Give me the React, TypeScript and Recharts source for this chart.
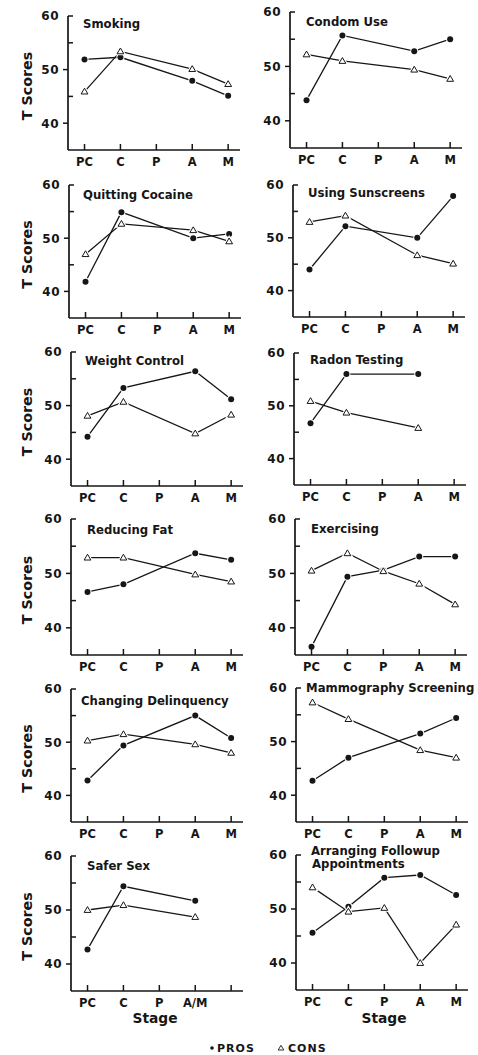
import { LineChart, Line, XAxis, YAxis } from "recharts";

// stage labels
const stages = ["PC", "C", "P", "A", "M"];
const saferSexStages = ["PC", "C", "P", "A/M", ""];
const yTicks = [40, 45, 50, 55, 60];

// T scores (null = no point at that stage)
const smokingPros = [51.9, 52.3, null, 47.9, 45.1];
const smokingCons = [45.9, 53.4, null, 50.1, 47.3];
const condomPros = [43.8, 55.7, null, 52.8, 55.0];
const condomCons = [52.2, 51.0, null, 49.4, 47.7];
const cocainePros = [41.8, 54.9, null, 50.0, 50.8];
const cocaineCons = [47.0, 52.7, null, 51.5, 49.4];
const sunscreenPros = [44.0, 52.2, null, 50.0, 57.9];
const sunscreenCons = [53.0, 54.2, null, 46.7, 45.1];
const weightPros = [44.2, 53.3, null, 56.4, 51.2];
const weightCons = [48.1, 50.7, null, 44.8, 48.3];
const radonPros = [46.7, 56.0, null, 56.0, null];
const radonCons = [50.9, 48.7, null, 45.8, null];
const fatPros = [46.6, 48.0, null, 53.7, 52.5];
const fatCons = [52.9, 52.9, null, 49.8, 48.5];
const exercisePros = [36.5, 49.4, 50.6, 53.1, 53.1];
const exerciseCons = [50.5, 53.7, 50.4, 48.1, 44.3];
const delinquencyPros = [42.8, 49.4, null, 55.0, 50.8];
const delinquencyCons = [50.3, 51.5, null, 49.6, 48.0];
const mammographyPros = [42.7, 47.0, null, 51.5, 54.4];
const mammographyCons = [57.3, 54.2, null, 48.4, 47.0];
const saferSexPros = [42.7, 54.4, null, 51.7, null];
const saferSexCons = [50.0, 50.9, null, 48.7, null];
const followupPros = [45.6, 50.4, 55.8, 56.3, 52.6];
const followupCons = [54.0, 49.5, 50.2, 40.0, 47.1];

const panels = [
  { title: ["Smoking"], labels: stages, pros: smokingPros, cons: smokingCons },
  { title: ["Condom Use"], labels: stages, pros: condomPros, cons: condomCons },
  { title: ["Quitting Cocaine"], labels: stages, pros: cocainePros, cons: cocaineCons },
  { title: ["Using Sunscreens"], labels: stages, pros: sunscreenPros, cons: sunscreenCons },
  { title: ["Weight Control"], labels: stages, pros: weightPros, cons: weightCons },
  { title: ["Radon Testing"], labels: stages, pros: radonPros, cons: radonCons },
  { title: ["Reducing Fat"], labels: stages, pros: fatPros, cons: fatCons },
  { title: ["Exercising"], labels: stages, pros: exercisePros, cons: exerciseCons },
  { title: ["Changing Delinquency"], labels: stages, pros: delinquencyPros, cons: delinquencyCons },
  { title: ["Mammography Screening"], labels: stages, pros: mammographyPros, cons: mammographyCons },
  { title: ["Safer Sex"], labels: saferSexStages, pros: saferSexPros, cons: saferSexCons },
  { title: ["Arranging Followup", "Appointments"], labels: stages, pros: followupPros, cons: followupCons },
];

// pixel placement of each panel (axis x, y of 60, baseline, title anchor)
const layout = [
  { axisX: 68, top: 16, base: 150, titleX: 83, titleY: 28 },
  { axisX: 290, top: 12, base: 148, titleX: 306, titleY: 26 },
  { axisX: 69, top: 185, base: 318, titleX: 83, titleY: 199 },
  { axisX: 293, top: 185, base: 317, titleX: 308, titleY: 197 },
  { axisX: 71, top: 352, base: 486, titleX: 85, titleY: 365 },
  { axisX: 294, top: 353, base: 485, titleX: 310, titleY: 364 },
  { axisX: 71, top: 519, base: 655, titleX: 87, titleY: 534 },
  { axisX: 295, top: 519, base: 655, titleX: 311, titleY: 533 },
  { axisX: 71, top: 689, base: 822, titleX: 81, titleY: 705 },
  { axisX: 296, top: 688, base: 822, titleX: 306, titleY: 692 },
  { axisX: 71, top: 856, base: 991, titleX: 87, titleY: 870 },
  { axisX: 296, top: 855, base: 990, titleX: 311, titleY: 855 },
];

const INK = "#161616";
const FONT = "'DejaVu Sans', sans-serif";
const PLOT_W = 172;

const YTick = (props: any) => {
  const { x, y, payload } = props;
  const v = payload.value;
  const labelled = v === 40 || v === 50 || v === 60;
  const outward = v === 40 || v === 50;
  return (
    <g>
      <line
        x1={outward ? x - 5 : x}
        x2={outward ? x : x + 5}
        y1={y}
        y2={y}
        stroke={INK}
        strokeWidth={1.5}
      />
      {labelled && (
        <text
          x={x - 9}
          y={y + 4.3}
          textAnchor="end"
          fill={INK}
          fontFamily={FONT}
          fontWeight="bold"
          fontSize={12}
          letterSpacing={0.5}
        >
          {v}
        </text>
      )}
    </g>
  );
};

const XTick = (props: any) => {
  const { x, y, payload, labels } = props;
  return (
    <g>
      <line x1={x} x2={x} y1={y} y2={y - 6} stroke={INK} strokeWidth={1.5} />
      <text
        x={x}
        y={y + 16}
        textAnchor="middle"
        fill={INK}
        fontFamily={FONT}
        fontWeight="bold"
        fontSize={11.5}
      >
        {labels[payload.value]}
      </text>
    </g>
  );
};

// markers carry a thin white halo so the lines stop just short of them
const prosDot = (props: any) => {
  const { cx, cy, index } = props;
  if (cx == null || cy == null) return <g key={`p${index}`} />;
  return (
    <g key={`p${index}`}>
      <circle cx={cx} cy={cy} r={4} fill="#fff" />
      <circle cx={cx} cy={cy} r={3} fill={INK} />
    </g>
  );
};

const consDot = (props: any) => {
  const { cx, cy, index } = props;
  if (cx == null || cy == null) return <g key={`c${index}`} />;
  const d = `M${cx},${cy - 3.4} L${cx + 3.4},${cy + 2.4} L${cx - 3.4},${cy + 2.4} Z`;
  return (
    <g key={`c${index}`}>
      <path d={d} fill="#fff" stroke="#fff" strokeWidth={3} />
      <path d={d} fill="#fff" stroke={INK} strokeWidth={1} />
    </g>
  );
};

function Panel({ p, l }: { p: any; l: any }) {
  const data = p.labels.map((s: string, i: number) => ({
    x: i,
    stage: s,
    pros: p.pros[i],
    cons: p.cons[i],
  }));
  const padL = 60;
  const padT = 10;
  const padR = 10;
  const padB = 25;
  const width = padL + PLOT_W + padR;
  const height = padT + (l.base - l.top) + padB;
  return (
    <div style={{ position: "absolute", left: l.axisX - padL, top: l.top - padT }}>
      <LineChart
        width={width}
        height={height}
        data={data}
        margin={{ top: padT, right: padR, bottom: 0, left: padL - 40 }}
      >
        <XAxis
          type="number"
          dataKey="x"
          domain={[-0.46, 4.33]}
          ticks={[0, 1, 2, 3, 4]}
          interval={0}
          height={padB}
          allowDataOverflow
          axisLine={{ stroke: INK, strokeWidth: 1.7 }}
          tickLine={false}
          tickSize={0}
          tickMargin={0}
          tick={(tp: any) => <XTick {...tp} labels={p.labels} />}
        />
        <YAxis
          type="number"
          domain={[35, 60]}
          ticks={yTicks}
          interval={0}
          width={40}
          allowDataOverflow
          axisLine={{ stroke: INK, strokeWidth: 1.7 }}
          tickLine={false}
          tickSize={0}
          tickMargin={0}
          tick={(tp: any) => <YTick {...tp} />}
        />
        <Line
          type="linear"
          dataKey="pros"
          stroke={INK}
          strokeWidth={1.3}
          connectNulls
          dot={prosDot}
          activeDot={false}
          isAnimationActive={false}
        />
        <Line
          type="linear"
          dataKey="cons"
          stroke={INK}
          strokeWidth={1.3}
          connectNulls
          dot={consDot}
          activeDot={false}
          isAnimationActive={false}
        />
      </LineChart>
    </div>
  );
}

const textStyle = {
  fill: INK,
  fontFamily: FONT,
  fontWeight: "bold" as const,
};

export default function App() {
  return (
    <div
      style={{
        position: "absolute",
        left: 0,
        top: 0,
        width: 478,
        height: 1055,
        background: "#fff",
        overflow: "hidden",
      }}
    >
      {panels.map((p, i) => (
        <Panel key={i} p={p} l={layout[i]} />
      ))}
      <svg
        width={478}
        height={1055}
        style={{ position: "absolute", left: 0, top: 0, pointerEvents: "none" }}
      >
        {panels.map((p, i) =>
          p.title.map((t, j) => (
            <text
              key={`t${i}-${j}`}
              x={layout[i].titleX + j}
              y={layout[i].titleY + j * 12.5}
              fontSize={11.7}
              {...textStyle}
            >
              {t}
            </text>
          ))
        )}
        {layout
          .filter((_, i) => i % 2 === 0)
          .map((l, i) => {
            const cy = (l.top + l.base) / 2 + 3;
            return (
              <text
                key={`ts${i}`}
                x={31.5}
                y={cy}
                transform={`rotate(-90 31.5 ${cy})`}
                textAnchor="middle"
                fontSize={14.3}
                {...textStyle}
              >
                T Scores
              </text>
            );
          })}
        <text x={155} y={1023} textAnchor="middle" fontSize={13.8} {...textStyle}>
          Stage
        </text>
        <text x={384} y={1023} textAnchor="middle" fontSize={13.8} {...textStyle}>
          Stage
        </text>
        <circle cx={212} cy={1048} r={1.8} fill={INK} />
        <text x={217} y={1052} fontSize={11} letterSpacing={1} {...textStyle}>
          PROS
        </text>
        <path d="M281,1045.3 L283.8,1050 L278.2,1050 Z" fill="#fff" stroke={INK} strokeWidth={0.9} />
        <text x={288} y={1052} fontSize={11} letterSpacing={1} {...textStyle}>
          CONS
        </text>
      </svg>
    </div>
  );
}
